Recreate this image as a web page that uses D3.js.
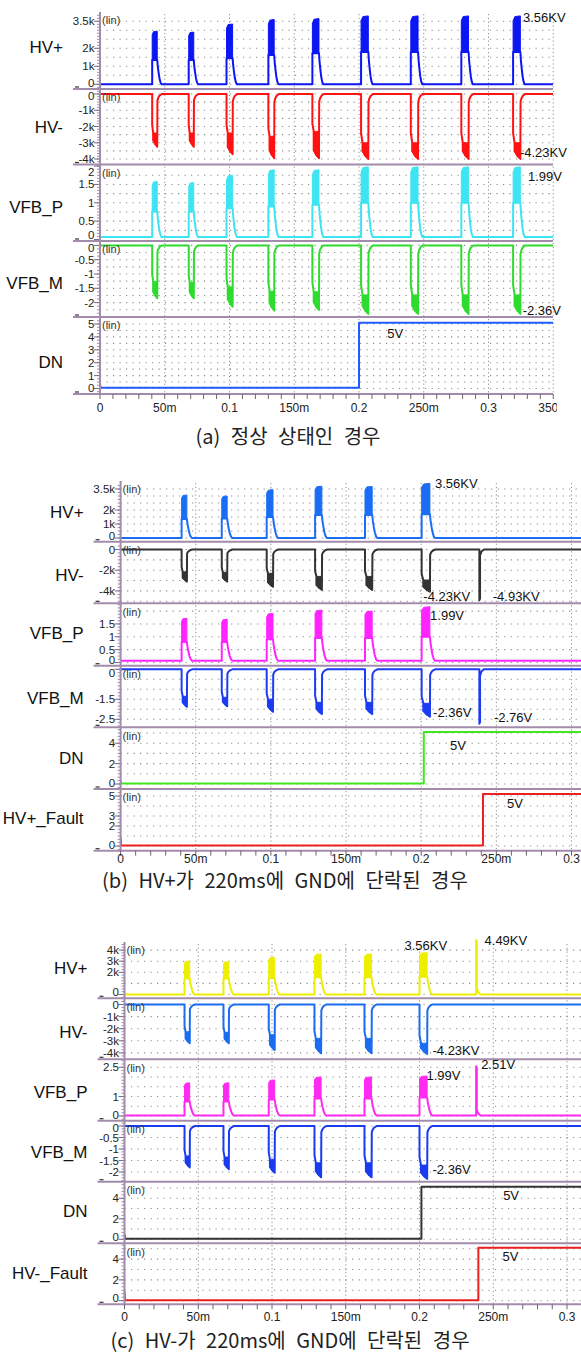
<!DOCTYPE html>
<html><head><meta charset="utf-8">
<script src="https://cdn.jsdelivr.net/npm/d3@7"></script>
<style>body{margin:0;background:#fff}svg{display:block}</style>
</head><body><svg width="581" height="1356"></svg>
<script>
// ================= DATA =================
const xTickValues = [0, 0.05, 0.1, 0.15, 0.2, 0.25, 0.3, 0.35];
const xTickLabels = ["0", "50m", "0.1", "150m", "0.2", "250m", "0.3", "350m"];

// shared pulse shape pieces (ms offsets, fractions)
const posTailDtMs = [0, 0.4, 1.0, 1.7, 2.5, 3.3];
const posTailFrac = [1.0, 0.75, 0.5, 0.25, 0.08, 0];
const bandPosFrac = [0, 0.25, 1];
const bandPosTop = [0.93, 0.99, 1.0];
const negLeadFrac = 0.8;
const negBandStart = 0.2;
const negBandFrac = [0, 0.4, 1];
const negBandBot = [0.88, 0.96, 1.0];
const negRecDtMs = [0.15, 0.8, 1.8, 3.5];
const negRecFrac = [0.12, 0.07, 0.03, 0];
const spikeDtMs = [0, 0, 0.45, 0.45, 1.4, 3.0];
const spikeFrac = [0, 1, 0.97, 0.12, 0.04, 0];

// ---- (a) normal state ----
const aPulseT   = [0.0403, 0.0685, 0.0977, 0.1300, 0.1640, 0.2016, 0.2400, 0.2790, 0.3190];
const aPulseWms = [3.9, 3.9, 4.7, 4.5, 5.1, 5.6, 5.6, 5.6, 5.6];
const aHVpPeak  = [2.95, 2.9, 3.35, 3.6, 3.65, 3.8, 3.8, 3.8, 3.8];
const aHVpLow   = [1.35, 1.35, 1.45, 1.63, 1.72, 1.8, 1.8, 1.8, 1.8];
const aHVmPeak  = [-3.25, -3.25, -3.7, -3.95, -3.95, -4.0, -4.0, -4.0, -4.0];
const aHVmHigh  = [-2.4, -2.4, -2.4, -2.6, -2.3, -3.0, -3.0, -3.0, -3.0];
const aVFBpPeak = [1.58, 1.55, 1.75, 1.9, 1.9, 1.98, 1.98, 1.98, 1.98];
const aVFBpLow  = [0.76, 0.76, 0.85, 0.9, 0.95, 1.0, 1.0, 1.0, 1.0];
const aVFBmPeak = [-1.85, -1.85, -2.14, -2.28, -2.26, -2.4, -2.4, -2.4, -2.4];
const aVFBmHigh = [-1.27, -1.3, -1.45, -1.6, -1.62, -1.73, -1.73, -1.73, -1.73];
const aDNt = [0, 0.0004, 0.2, 0.2, 0.35];
const aDNv = [0.4, 0.05, 0.05, 5.1, 5.1];

// ---- (b) HV+ shorted to GND at 220ms ----
const bPulseT   = [0.0406, 0.0673, 0.0972, 0.1294, 0.1626, 0.2003];
const bPulseWms = [3.5, 3.6, 4.2, 4.5, 4.8, 5.5];
const bHVpPeak  = [3.07, 3.0, 3.45, 3.7, 3.68, 3.9];
const bHVpLow   = [1.35, 1.4, 1.5, 1.65, 1.65, 1.7];
const bHVmPeak  = [-3.1, -3.1, -3.6, -3.9, -3.9, -4.08];
const bHVmHigh  = [-2.15, -2.2, -2.3, -2.6, -2.6, -2.95];
const bHVmSpike = [[0.2387, -4.9]];
const bVFBpPeak = [1.72, 1.68, 1.91, 2.04, 2.0, 2.17];
const bVFBpLow  = [0.8, 0.8, 0.9, 0.95, 0.95, 1.0];
const bVFBmPeak = [-1.87, -1.85, -2.12, -2.24, -2.24, -2.37];
const bVFBmHigh = [-1.35, -1.4, -1.5, -1.65, -1.65, -1.7];
const bVFBmSpike = [[0.2387, -2.72]];
const bDNt = [0, 0.0004, 0.2017, 0.2017, 0.31];
const bDNv = [0.4, 0.05, 0.05, 5.1, 5.1];
const bFaultT = [0, 0.0004, 0.2411, 0.2411, 0.31];
const bFaultV = [0.85, 0.05, 0.05, 5.2, 5.2];

// ---- (c) HV- shorted to GND at 220ms ----
const cPulseT   = [0.0407, 0.0671, 0.0978, 0.1288, 0.1627, 0.2000];
const cPulseWms = [3.5, 3.6, 4.0, 4.5, 4.8, 5.2];
const cHVpPeak  = [3.02, 2.95, 3.35, 3.65, 3.65, 3.77];
const cHVpLow   = [1.45, 1.45, 1.5, 1.55, 1.55, 1.6];
const cHVpSpike = [[0.2384, 4.9]];
const cHVmPeak  = [-3.2, -3.2, -3.76, -4.03, -4.03, -4.09];
const cHVmHigh  = [-2.25, -2.3, -2.5, -2.8, -2.8, -3.2];
const cVFBpPeak = [1.7, 1.7, 1.85, 2.0, 2.0, 2.05];
const cVFBpLow  = [0.75, 0.75, 0.85, 0.9, 0.9, 0.95];
const cVFBpSpike = [[0.2384, 2.55]];
const cVFBmPeak = [-1.8, -1.88, -2.03, -2.23, -2.23, -2.3];
const cVFBmHigh = [-1.3, -1.35, -1.45, -1.6, -1.6, -1.7];
const cDNt = [0, 0.0004, 0.2013, 0.2013, 0.31];
const cDNv = [0.5, 0.05, 0.05, 5.13, 5.13];
const cFaultT = [0, 0.0004, 0.2399, 0.2399, 0.31];
const cFaultV = [0.87, 0.05, 0.05, 5.1, 5.1];

// tick values / labels per subplot
const aTicks = [[0,1,2,3.5],[0,-1,-2,-3,-4],[0,0.5,1,1.5,2],[0,-0.5,-1,-1.5,-2],[0,1,2,3,4,5]];
const aTickLabels = [["0","1k","2k","3.5k"],["0","-1k","-2k","-3k","-4k"],["0","0.5","1","1.5","2"],["0","-0.5","-1","-1.5","-2"],["0","1","2","3","4","5"]];
const bTicks = [[0,1,2,3.5],[0,-2,-4],[0,0.5,1,1.5],[0,-1.5,-2.5],[0,2,4],[0,2,3,5]];
const bTickLabels = [["0","1k","2k","3.5k"],["0","-2k","-4k"],["0","0.5","1","1.5"],["0","-1.5","-2.5"],["0","2","4"],["0","2","3","5"]];
const cTicks = [[0,2,3,4],[0,-1,-2,-3,-4],[0,1,2.5],[0,-0.5,-1,-1.5,-2],[0,2,4],[0,2,4]];
const cTickLabels = [["0","2k","3k","4k"],["0","-1k","-2k","-3k","-4k"],["0","1","2.5"],["0","-0.5","-1","-1.5","-2"],["0","2","4"],["0","2","4"]];

const aNames = ["HV+", "HV-", "VFB_P", "VFB_M", "DN"];
const bNames = ["HV+", "HV-", "VFB_P", "VFB_M", "DN", "HV+_Fault"];
const cNames = ["HV+", "HV-", "VFB_P", "VFB_M", "DN", "HV-_Fault"];

const captions = ["(a) 정상 상태인 경우", "(b) HV+가 220ms에 GND에 단락된 경우", "(c) HV-가 220ms에 GND에 단락된 경우"];

// annotations: [text, row, time, value]
const aNotes = [["3.56KV",0,0.3266,3.74],["-4.23KV",1,0.3243,-3.57],["1.99V",2,0.3305,1.71],["-2.36V",3,0.3264,-2.26],["5V",4,0.2218,4.28]];
const bNotes = [["3.56KV",0,0.2092,3.9],["-4.23KV",1,0.2014,-4.49],["-4.93KV",1,0.2476,-4.49],["1.99V",2,0.2059,1.85],["-2.36V",3,0.2079,-2.17],["-2.76V",3,0.2484,-2.39],["5V",4,0.2191,3.82],["5V",5,0.2571,4.27]];
const cNotes = [["3.56KV",0,0.1898,4.46],["4.49KV",0,0.2441,4.91],["-4.23KV",1,0.2088,-3.82],["2.51V",2,0.2418,2.62],["1.99V",2,0.2047,2.1],["-2.36V",3,0.2088,-1.91],["5V",4,0.2567,4.32],["5V",5,0.2563,4.23]];

// ================= BUILDERS =================
const MS = 0.001;
function posSeries(T, W, P, L, base, tEnd, spikes) {
  const line = [[0, base]], bands = [];
  T.forEach((t0, i) => {
    const w = W[i] * MS;
    line.push([t0, base], [t0, L[i]]);
    bands.push(bandPosFrac.map((f, j) => [t0 + f * w, L[i], P[i] * bandPosTop[j]]));
    posTailDtMs.forEach((d, j) => line.push([t0 + w + d * MS, base + (L[i] - base) * posTailFrac[j]]));
  });
  (spikes || []).forEach(([ts, v]) => spikeDtMs.forEach((d, j) => line.push([ts + d * MS, base + (v - base) * spikeFrac[j]])));
  line.push([tEnd, base]);
  return { line, bands };
}
function negSeries(T, W, P, H, base, tEnd, spikes) {
  const line = [[0, base]], bands = [];
  T.forEach((t0, i) => {
    const w = W[i] * MS, ts = t0 + negBandStart * w, te = t0 + w;
    line.push([t0, base], [t0, H[i] * negLeadFrac], [ts, H[i]], [ts, P[i] * negBandBot[0]]);
    bands.push(negBandFrac.map((f, j) => [ts + f * (te - ts), H[i], P[i] * negBandBot[j]]));
    line.push([te, P[i]]);
    negRecDtMs.forEach((d, j) => line.push([te + d * MS, base + (P[i] - base) * negRecFrac[j]]));
  });
  (spikes || []).forEach(([ts, v]) => spikeDtMs.forEach((d, j) => line.push([ts + d * MS, base + (v - base) * spikeFrac[j]])));
  line.push([tEnd, base]);
  return { line, bands };
}
function stepSeries(T, V) { return { line: T.map((t, i) => [t, V[i]]), bands: [] }; }

// ================= LAYOUT =================
const panels = [
  { axisX: 100, px100: 129.5, xEnd: 553, labelClip: 557, tickY: 408, capX: 288, capY: 437, tEnd: 0.35,
    names: aNames, ticks: aTicks, tickLabels: aTickLabels, notes: aNotes,
    rows: [
      { top: 12, bottom: 89, y0: 84.3, ppu: 18, grid: 0.5, labelY: 46.7, color: "#0b16f2",
        s: posSeries(aPulseT, aPulseWms, aHVpPeak, aHVpLow, 0, 0.35) },
      { top: 89, bottom: 164.5, y0: 94, ppu: 16.25, grid: 0.5, labelY: 126.7, color: "#ff1212",
        s: negSeries(aPulseT, aPulseWms, aHVmPeak, aHVmHigh, 0, 0.35) },
      { top: 164.5, bottom: 241, y0: 239.5, ppu: 36.7, grid: 0.25, labelY: 206.7, color: "#3fe4f2",
        s: posSeries(aPulseT, aPulseWms, aVFBpPeak, aVFBpLow, 0.07, 0.35) },
      { top: 241, bottom: 317, y0: 245.4, ppu: 28.6, grid: 0.25, labelY: 283, color: "#2edb2e",
        s: negSeries(aPulseT, aPulseWms, aVFBmPeak, aVFBmHigh, 0, 0.35) },
      { top: 317, bottom: 394, y0: 388.5, ppu: 12.9, grid: 0.5, labelY: 361.7, color: "#1f5bff",
        s: stepSeries(aDNt, aDNv) }
    ] },
  { axisX: 120.6, px100: 150.3, xEnd: 581, labelClip: 590, tickY: 859, capX: 285, capY: 881, tEnd: 0.31,
    names: bNames, ticks: bTicks, tickLabels: bTickLabels, notes: bNotes,
    rows: [
      { top: 481, bottom: 541.7, y0: 538, ppu: 14, grid: 0.5, labelY: 511.7, color: "#1b6df4",
        s: posSeries(bPulseT, bPulseWms, bHVpPeak, bHVpLow, 0, 0.31) },
      { top: 541.7, bottom: 603.3, y0: 549.5, ppu: 10.35, grid: 1, labelY: 575, color: "#333333",
        s: negSeries(bPulseT, bPulseWms, bHVmPeak, bHVmHigh, 0, 0.31, bHVmSpike) },
      { top: 603.3, bottom: 665.7, y0: 662.5, ppu: 25.7, grid: 0.5, labelY: 633, color: "#ff24ff",
        s: posSeries(bPulseT, bPulseWms, bVFBpPeak, bVFBpLow, 0.07, 0.31) },
      { top: 665.7, bottom: 727.3, y0: 669.3, ppu: 20, grid: 0.5, labelY: 698, color: "#1c3cf4",
        s: negSeries(bPulseT, bPulseWms, bVFBmPeak, bVFBmHigh, 0, 0.31, bVFBmSpike) },
      { top: 727.3, bottom: 789, y0: 784, ppu: 10.2, grid: 1, labelY: 758, color: "#40e620",
        s: stepSeries(bDNt, bDNv) },
      { top: 789, bottom: 850.7, y0: 846, ppu: 10, grid: 1, labelY: 818, color: "#ec2020",
        s: stepSeries(bFaultT, bFaultV) }
    ] },
  { axisX: 124.5, px100: 147.5, xEnd: 581, labelClip: 590, tickY: 1317, capX: 290, capY: 1341, tEnd: 0.31,
    names: cNames, ticks: cTicks, tickLabels: cTickLabels, notes: cNotes,
    rows: [
      { top: 942, bottom: 998.3, y0: 994.5, ppu: 11.1, grid: 1, labelY: 968, color: "#eeee00",
        s: posSeries(cPulseT, cPulseWms, cHVpPeak, cHVpLow, 0, 0.31, cHVpSpike) },
      { top: 998.3, bottom: 1059.3, y0: 1004.5, ppu: 12.1, grid: 1, labelY: 1031.7, color: "#1b6cf0",
        s: negSeries(cPulseT, cPulseWms, cHVmPeak, cHVmHigh, 0, 0.31) },
      { top: 1059.3, bottom: 1120.7, y0: 1116, ppu: 19.5, grid: 0.5, labelY: 1091.7, color: "#ff2af2",
        s: posSeries(cPulseT, cPulseWms, cVFBpPeak, cVFBpLow, 0.03, 0.31, cVFBpSpike) },
      { top: 1120.7, bottom: 1181.7, y0: 1126, ppu: 23, grid: 0.5, labelY: 1151.7, color: "#1a3cf0",
        s: negSeries(cPulseT, cPulseWms, cVFBmPeak, cVFBmHigh, 0, 0.31) },
      { top: 1181.7, bottom: 1243.3, y0: 1239.3, ppu: 10.25, grid: 1, labelY: 1210.7, color: "#333333",
        s: stepSeries(cDNt, cDNv) },
      { top: 1243.3, bottom: 1304.3, y0: 1300.7, ppu: 10.4, grid: 1, labelY: 1273.3, color: "#ec1f1f",
        s: stepSeries(cFaultT, cFaultV) }
    ] }
];

// ================= DRAW =================
const svg = d3.select("svg");
const FONT = "'Liberation Sans', Arial, sans-serif";
const MAUVE = "#a38cab";
const defs = svg.append("defs");

panels.forEach((p, pi) => {
  const x = d3.scaleLinear().domain([0, 0.1]).range([p.axisX, p.axisX + p.px100]);
  const g = svg.append("g");
  const clipId = "clip" + pi, lclipId = "lclip" + pi;
  defs.append("clipPath").attr("id", clipId).append("rect")
    .attr("x", p.axisX).attr("y", 0).attr("width", p.xEnd - p.axisX).attr("height", 1356);
  defs.append("clipPath").attr("id", lclipId).append("rect")
    .attr("x", 0).attr("y", 0).attr("width", p.labelClip).attr("height", 1356);
  const top = p.rows[0].top, bottom = p.rows[p.rows.length - 1].bottom;
  const majors = xTickValues.filter(v => x(v) <= p.xEnd + 0.5);
  const minors = d3.range(0, 0.36, 0.01).filter(v => x(v) <= p.xEnd + 0.5);

  p.rows.forEach((r, ri) => {
    const y = d3.scaleLinear().domain([0, 1]).range([r.y0, r.y0 - r.ppu]);
    // horizontal dotted grid
    const gVals = [];
    for (let k = -20; k <= 20; k++) {
      const yy = y(k * r.grid);
      if (yy > r.top + 4 && yy < r.bottom - 2) gVals.push(k * r.grid);
    }
    g.selectAll(null).data(gVals).join("line")
      .attr("x1", p.axisX).attr("x2", p.xEnd).attr("y1", d => y(d)).attr("y2", d => y(d))
      .attr("stroke", "#8a8a8a").attr("stroke-width", 1.1).attr("stroke-dasharray", "1.2,5.3");
    // vertical dotted grid
    g.selectAll(null).data(majors.filter(v => v > 0)).join("line")
      .attr("x1", d => x(d)).attr("x2", d => x(d)).attr("y1", r.top + 2).attr("y2", r.bottom - 1)
      .attr("stroke", "#8f8f8f").attr("stroke-width", 1).attr("stroke-dasharray", "1.2,2.6");
    // traces
    const tg = g.append("g").attr("clip-path", `url(#${clipId})`);
    const area = d3.area().x(d => x(d[0])).y0(d => y(d[1])).y1(d => y(d[2]));
    tg.selectAll(null).data(r.s.bands).join("path")
      .attr("d", area).attr("fill", r.color).attr("stroke", r.color).attr("stroke-width", 1);
    tg.append("path").attr("d", d3.line().x(d => x(d[0])).y(d => y(d[1]))(r.s.line))
      .attr("fill", "none").attr("stroke", r.color).attr("stroke-width", 2).attr("stroke-linejoin", "round");
    // y minor/major ticks
    const minorN = Math.max(1, Math.round(r.grid * r.ppu / 3));
    const mstep = r.grid / minorN;
    const mVals = [];
    for (let k = -200; k <= 200; k++) {
      const yy = y(k * mstep);
      if (yy > r.top + 1 && yy < r.bottom - 1) mVals.push(k * mstep);
    }
    g.selectAll(null).data(mVals).join("line")
      .attr("x1", p.axisX - 3).attr("x2", p.axisX).attr("y1", d => y(d)).attr("y2", d => y(d))
      .attr("stroke", MAUVE).attr("stroke-width", 1);
    const tv = p.ticks[ri], tl = p.tickLabels[ri];
    g.selectAll(null).data(tv).join("line")
      .attr("x1", p.axisX - 6).attr("x2", p.axisX).attr("y1", d => y(d)).attr("y2", d => y(d))
      .attr("stroke", "#7d6a85").attr("stroke-width", 1);
    g.selectAll(null).data(tv).join("text")
      .attr("x", p.axisX - 5.5)
      .attr("y", d => Math.min(Math.max(y(d), r.top + 7), r.bottom - 6))
      .attr("dy", "0.35em").attr("text-anchor", "end")
      .attr("font-family", FONT).attr("font-size", 11.5).attr("fill", "#222")
      .text((d, i) => tl[i]);
    // (lin)
    g.append("text").attr("x", p.axisX + 2).attr("y", r.top + 8.5).attr("dy", "0.35em")
      .attr("font-family", FONT).attr("font-size", 11).attr("fill", "#333").text("(lin)");
    // row name
    g.append("text").attr("x", p.axisX - 37).attr("y", r.labelY).attr("dy", "0.35em")
      .attr("text-anchor", "end").attr("font-family", FONT).attr("font-size", 17).attr("fill", "#111")
      .text(p.names[ri]);
    // bottom divider
    g.append("line").attr("x1", p.axisX - 27).attr("x2", p.xEnd).attr("y1", r.bottom).attr("y2", r.bottom)
      .attr("stroke", MAUVE).attr("stroke-width", 2);
    g.append("line").attr("x1", p.axisX - 25).attr("x2", p.axisX - 21).attr("y1", r.bottom - 2).attr("y2", r.bottom - 2)
      .attr("stroke", "#333").attr("stroke-width", 1.2);
    // annotations
    p.notes.filter(n => n[1] === ri).forEach(n => {
      g.append("text").attr("x", x(n[2])).attr("y", y(n[3])).attr("dy", "0.35em")
        .attr("font-family", FONT).attr("font-size", 13).attr("fill", "#111").text(n[0]);
    });
  });

  // y axis line
  g.append("line").attr("x1", p.axisX).attr("x2", p.axisX).attr("y1", top).attr("y2", bottom + 1)
    .attr("stroke", MAUVE).attr("stroke-width", 2);
  // x ticks
  g.selectAll(null).data(minors).join("line")
    .attr("x1", d => x(d)).attr("x2", d => x(d)).attr("y1", bottom).attr("y2", bottom + 5)
    .attr("stroke", "#6f6077").attr("stroke-width", 1);
  g.append("g").attr("clip-path", `url(#${lclipId})`).selectAll(null).data(majors).join("text")
    .attr("x", d => x(d)).attr("y", p.tickY).attr("dy", "0.35em").attr("text-anchor", "middle")
    .attr("font-family", FONT).attr("font-size", 12).attr("fill", "#222")
    .text(d => xTickLabels[xTickValues.indexOf(d)]);
  // caption
  svg.append("text").attr("x", p.capX).attr("y", p.capY).attr("dy", "0.35em").attr("text-anchor", "middle")
    .attr("font-family", "'Noto Sans CJK KR', sans-serif").attr("font-size", 20).attr("fill", "#222")
    .attr("word-spacing", 6).text(captions[pi]);
});
</script></body></html>
